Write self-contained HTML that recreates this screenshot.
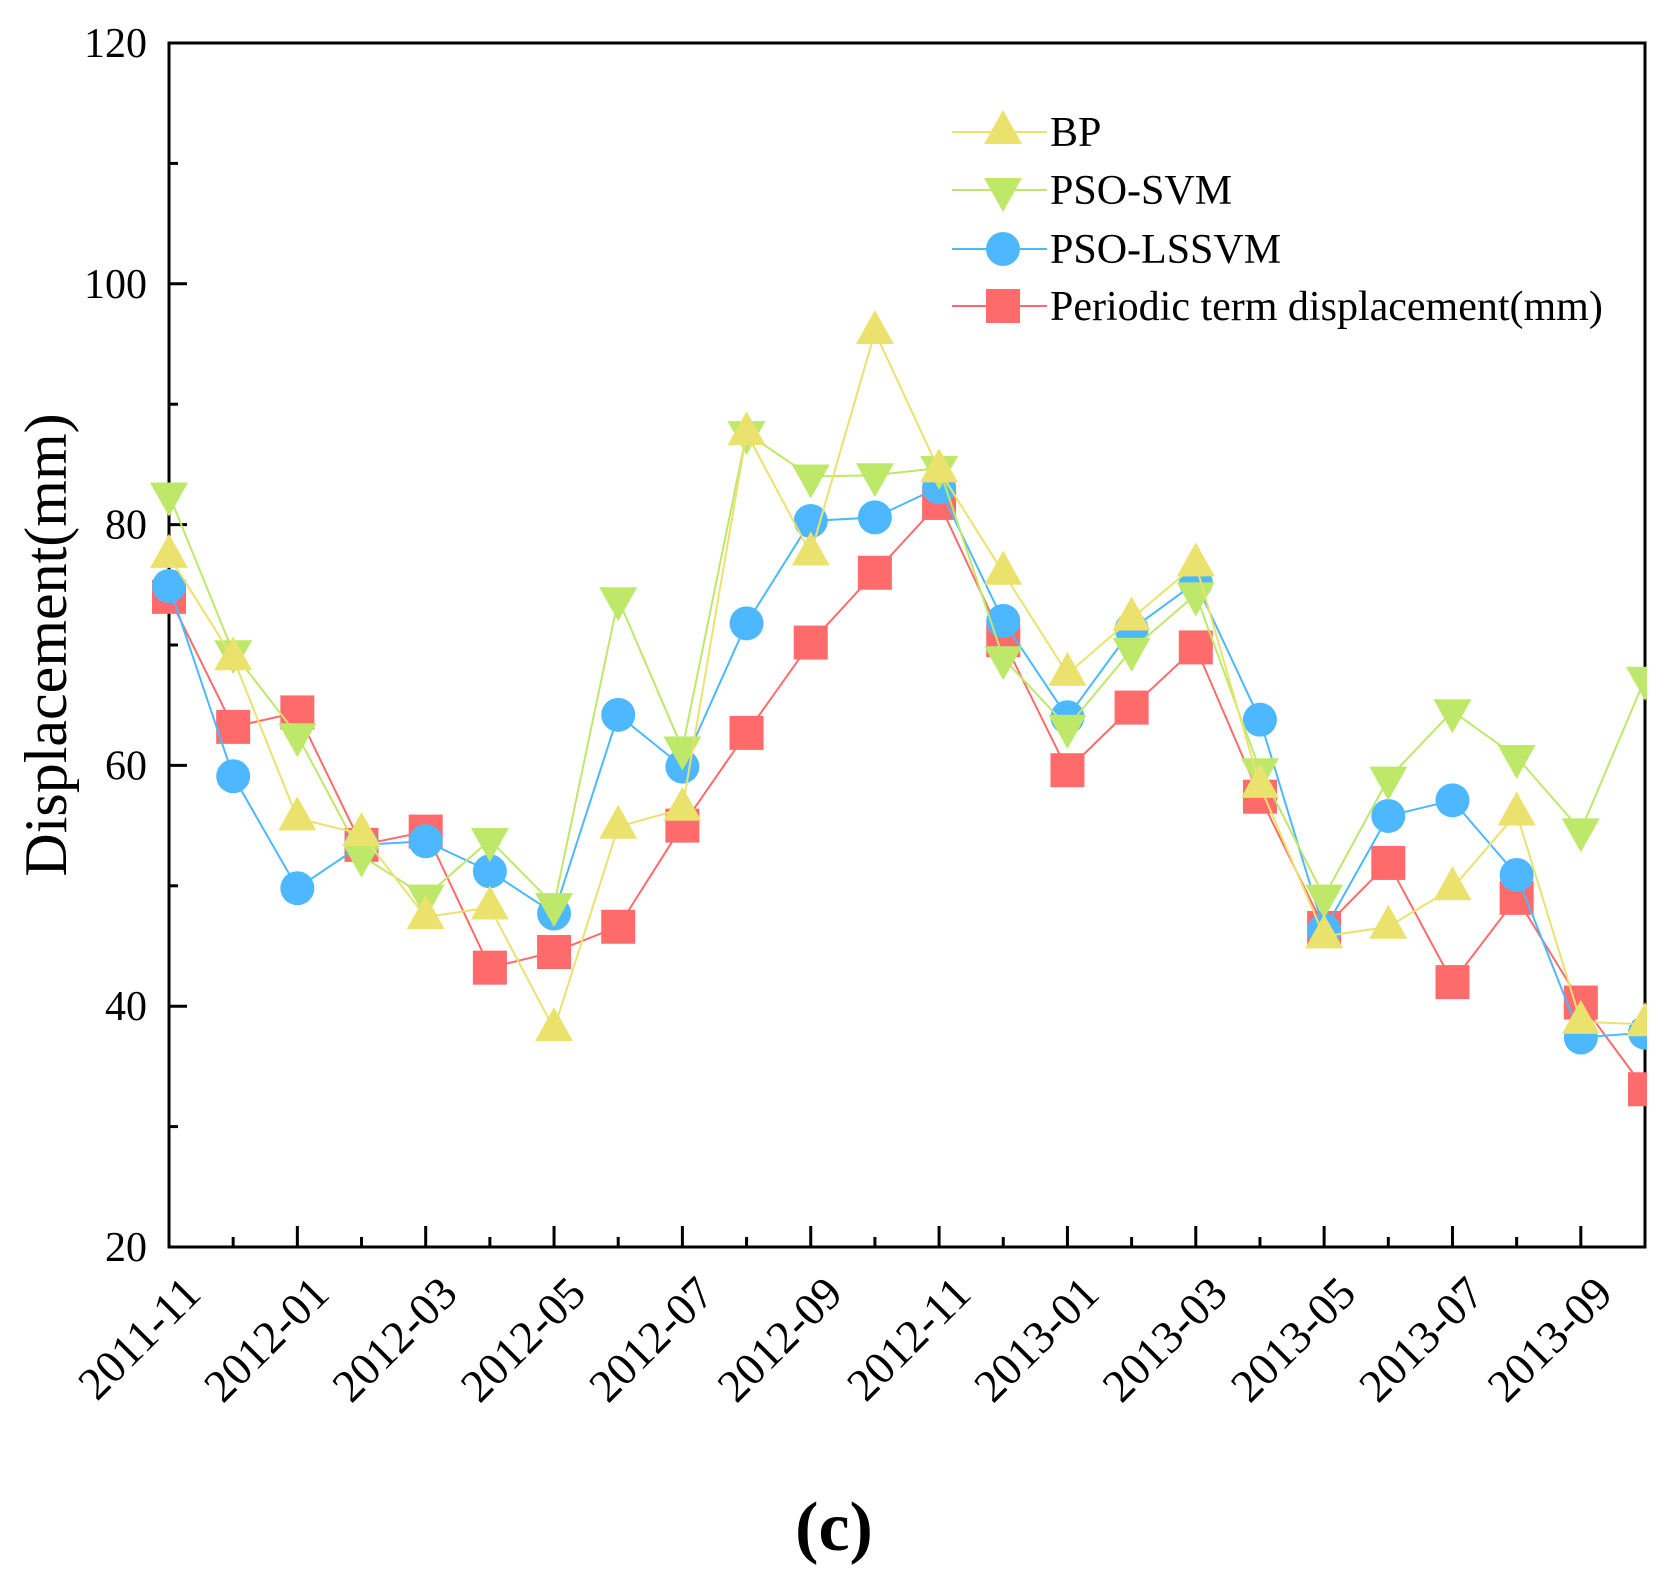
<!DOCTYPE html>
<html><head><meta charset="utf-8"><style>
html,body{margin:0;padding:0;background:#fff;}
svg{display:block;font-family:"Liberation Serif",serif;}
</style></head><body>
<svg id="chart" width="1673" height="1586" viewBox="0 0 1673 1586" xmlns="http://www.w3.org/2000/svg">
<g id="grid"></g>
<g id="series"></g>
<g id="legend"></g>
<text x="0" y="0" font-size="60" font-family="Liberation Serif, serif" text-anchor="middle" transform="translate(66,645) rotate(-90)">Displacement(mm)</text>
<text x="834" y="1550" font-size="70" font-weight="bold" text-anchor="middle">(c)</text>
</svg>
<script>
const months = ["2011-11","2011-12","2012-01","2012-02","2012-03","2012-04","2012-05","2012-06","2012-07","2012-08","2012-09","2012-10","2012-11","2012-12","2013-01","2013-02","2013-03","2013-04","2013-05","2013-06","2013-07","2013-08","2013-09","2013-10"];
const periodic = [74,63.2,64.4,53.4,54.5,43.2,44.5,46.6,55,62.7,70.2,76,81.8,70.4,59.6,64.8,69.8,57.4,46.5,51.9,42,49,40.3,33.1];
const bp = [77.4,68.9,55.6,54.3,47.4,48.2,38.1,54.9,56.4,87.6,77.6,96,84.5,76,67.6,72.2,76.7,58.3,45.8,46.6,49.8,56,38.7,38.5];
const psoSvm = [82.5,69.4,62.5,52.5,49.1,53.8,48.4,73.8,61.4,87.6,84,84.1,84.7,68.9,63.2,69.6,74.2,59.6,49.1,58.9,64.5,60.7,54.6,67.2];
const psoLssvm = [74.9,59.1,49.8,53.4,53.7,51.2,47.7,64.2,59.9,71.8,80.3,80.6,83.1,72,64,71.3,75.2,63.8,46.3,55.8,57.1,50.9,37.4,37.8];
const yTicks = [20,40,60,80,100,120];
const seriesNames = ["BP","PSO-SVM","PSO-LSSVM","Periodic term displacement(mm)"];

const NS="http://www.w3.org/2000/svg";
const L=169,R=1645,T=43,B=1247;
const x=i=>L+(R-L)*i/(months.length-1);
const y=v=>B-(v-20)/(120-20)*(B-T);
function mk(tag,attrs,parent){const e=document.createElementNS(NS,tag);for(const k in attrs)e.setAttribute(k,attrs[k]);parent.appendChild(e);return e;}
const grid=document.getElementById('grid');
const sg=document.getElementById('series');
const lg=document.getElementById('legend');

const frame=mk('rect',{x:L,y:T,width:R-L,height:B-T,fill:'none',stroke:'#000','stroke-width':3},grid);


for(let v=20;v<=120;v+=10){
  const major=v%20===0;
  const t=mk('line',{x1:L,x2:L+(major?18:9),y1:y(v),y2:y(v),stroke:'#000','stroke-width':3},grid);
  
  
}
yTicks.forEach(v=>{
  const t=mk('text',{x:L-22,y:y(v)+14,'font-size':42,'text-anchor':'end'},grid);
  t.textContent=v;
  
  
});
months.forEach((m,i)=>{
  const major=i%2===0;
  if(i>0&&i<months.length-1){
    const t=mk('line',{x1:x(i),x2:x(i),y1:B,y2:B-(major?21:10),stroke:'#000','stroke-width':3},grid);
    
    
  }
  if(major){
    const t=mk('text',{x:0,y:0,'font-size':46,'text-anchor':'end',transform:`translate(${x(i)+34},${1296}) rotate(-45)`},grid);
    t.textContent=m;
    
    
  }
});

const colors=["#ebe26e","#bee86a","#4db8ff","#ff6b6b"];
function marker(type,cx,cy,col,parent){
  let e;
  if(type===0) e=mk('polygon',{points:`${cx},${cy-22} ${cx-19},${cy+12} ${cx+19},${cy+12}`,fill:col},parent);
  else if(type===1) e=mk('polygon',{points:`${cx},${cy+22} ${cx-19},${cy-12} ${cx+19},${cy-12}`,fill:col},parent);
  else if(type===2) e=mk('circle',{cx:cx,cy:cy,r:17,fill:col},parent);
  else e=mk('rect',{x:cx-17,y:cy-17,width:34,height:34,fill:col},parent);
  return e;
}
const data=[bp,psoSvm,psoLssvm,periodic];
const sNames=['bp','pso-svm','pso-lssvm','periodic'];
[3,2,1,0].forEach(s=>{
  const g=mk('g',{},sg);
  
  
  const pl=mk('polyline',{points:data[s].map((v,i)=>x(i)+','+y(v)).join(' '),fill:'none',stroke:colors[s],'stroke-width':2},g);
  
  
  data[s].forEach((v,i)=>{
    const m=marker(s,x(i),y(v),colors[s],g);
    
    
  });
});
const cover=mk('rect',{x:R+2,y:0,width:1673-R-2,height:1586,fill:'#fff'},sg);



const ly=[132,190,249,306];
seriesNames.forEach((n,s)=>{
  const g=mk('g',{},lg);
  
  
  mk('line',{x1:952,x2:1047,y1:ly[s],y2:ly[s],stroke:colors[s],'stroke-width':2},g);
  marker(s,1003,ly[s],colors[s],g);
  const t=mk('text',{x:1050,y:ly[s]+14,'font-size':42},g);
  t.textContent=n;
});
</script>
</body></html>
